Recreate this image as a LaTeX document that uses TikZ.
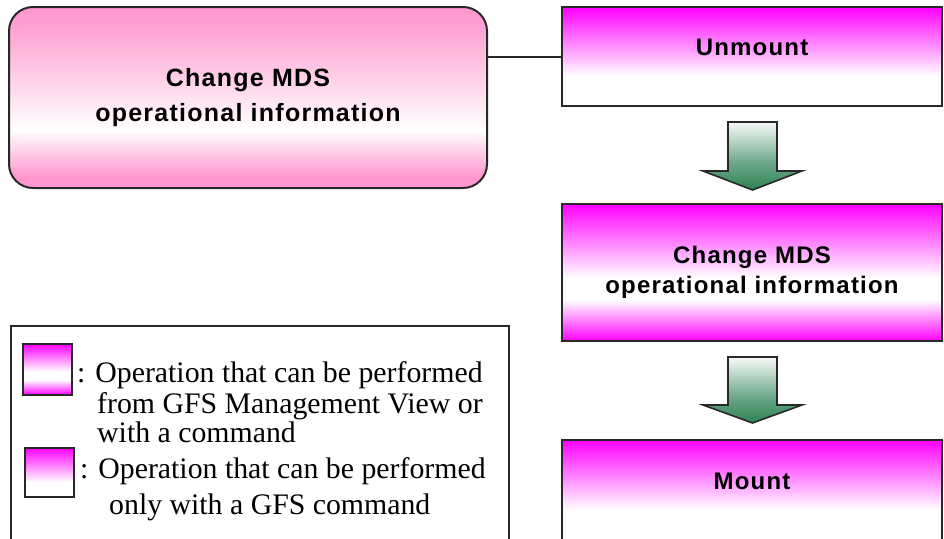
\documentclass[tikz,border=0pt]{standalone}
\usepackage{fontspec}
\setmainfont{Liberation Serif}
\newfontfamily\boxfont[LetterSpace=5]{Liberation Sans}
\definecolor{pk}{RGB}{255,150,205}
\definecolor{mg}{RGB}{255,0,255}
\definecolor{gr}{RGB}{45,130,85}
\definecolor{edge}{RGB}{40,40,40}
\pgfdeclareverticalshading{pinkband}{100bp}{color(0bp)=(pk); color(28bp)=(pk); color(41bp)=(white); color(68bp)=(pk!85!white); color(75bp)=(pk); color(100bp)=(pk)}
\pgfdeclareverticalshading{mgwhite}{100bp}{color(0bp)=(white); color(40bp)=(white); color(75bp)=(mg); color(100bp)=(mg)}
\pgfdeclareverticalshading{mgband}{100bp}{color(0bp)=(mg); color(25bp)=(mg); color(40bp)=(white); color(48bp)=(white); color(75bp)=(mg); color(100bp)=(mg)}
\pgfdeclareverticalshading{greenfade}{100bp}{color(0bp)=(gr); color(25bp)=(gr); color(45bp)=(gr!70!white); color(75bp)=(gr!4!white); color(100bp)=(gr!4!white)}
\tikzset{
  opbox/.style={draw=edge, line width=2pt, shade, inner sep=0pt, minimum width=380pt},
  boxtext/.style={font=\boxfont\bfseries\fontsize{24}{30}\selectfont, align=center, inner sep=0pt},
  legtext/.style={font=\fontsize{29.8}{33}\selectfont, anchor=base west, inner sep=0pt},
  blockarrow/.style={draw=edge, line width=1.6pt, shade, shading=greenfade, line join=miter},
  conn/.style={draw=edge, line width=2pt}
}
\begin{document}
\begin{tikzpicture}[x=1pt,y=-1pt]
\useasboundingbox (0,0) rectangle (944,538);
\clip (0,0) rectangle (944,538);
% left rounded box
\node[draw=edge, line width=2pt, shade, shading=pinkband, rounded corners=24pt,
      minimum width=478pt, minimum height=181pt, inner sep=0pt,
      font=\boxfont\bfseries\fontsize{25}{35}\selectfont, align=center] (cm) at (248,97.5)
      {Change MDS\\operational information};
% right boxes
\node[opbox, shading=mgwhite, minimum height=99pt] (un) at (752,56.5) {};
\node[boxtext] (unt) at (752,47) {Unmount};
\node[opbox, shading=mgband, minimum height=137pt, boxtext] (cm2) at (752,272.5)
      {Change MDS\\operational information};
\node[opbox, shading=mgwhite, minimum height=100pt] (mo) at (752,490) {};
\node[boxtext] (mot) at (752,481) {Mount};
% connector
\draw[conn] (un.west -| cm.east) -- (un.west);
% block arrows
\draw[blockarrow] (728,122) -- (777,122) -- (777,171) -- (802,171) -- (752.5,190) -- (703,171) -- (728,171) -- cycle;
\draw[blockarrow] (728,357) -- (777,357) -- (777,405) -- (802,405) -- (752.5,423) -- (703,405) -- (728,405) -- cycle;
% legend
\node[draw=edge, line width=1.6pt, minimum width=498pt, minimum height=230pt, anchor=north west, inner sep=0pt] (leg) at (10,325) {};
\node[draw=edge, line width=2pt, shade, shading=mgband, minimum width=49pt, minimum height=51pt, inner sep=0pt] (sq1) at (47.5,369.5) {};
\node[draw=edge, line width=2pt, shade, shading=mgwhite, minimum width=49pt, minimum height=49pt, inner sep=0pt] (sq2) at (49.5,472.5) {};
\node[legtext] (l1) at (77,382) {: Operation that can be performed};
\node[legtext] (l2) at (97,413) {from GFS Management View or};
\node[legtext] (l3) at (97,442) {with a command};
\node[legtext] (l4) at (80,478) {: Operation that can be performed};
\node[legtext] (l5) at (109,514) {only with a GFS command};
\end{tikzpicture}
\end{document}
